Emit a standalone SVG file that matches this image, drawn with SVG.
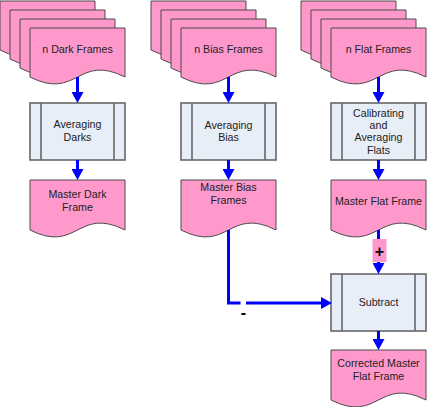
<svg xmlns="http://www.w3.org/2000/svg" xmlns:xlink="http://www.w3.org/1999/xlink" width="427" height="407" viewBox="0 0 427 407">
<style>
.doc{fill:#FF99CC;stroke:#4a4a4a;stroke-width:1}
.pbox{fill:#E8EEF7;stroke:#666666;stroke-width:1.6}
.pline{stroke:#666666;stroke-width:1.6}
text{font-family:"Liberation Sans",Arial,sans-serif;font-size:10.67px;fill:#222222;text-anchor:middle}
.lbl{font-size:16px;font-weight:bold;fill:#000000}
.conn{fill:none;stroke:#0000FF;stroke-width:3;stroke-linejoin:miter}
</style>
<defs>
<path id="doc" d="M0,0 H95 V50 C47.5,26 47.5,74 0,50 Z"/>
<path id="sheet" d="M0,0 H95 V49 C47.5,25 47.5,73 0,49 Z"/>
<g id="proc">
<rect x="0" y="0" width="95" height="57" class="pbox"/>
<line x1="11" y1="0" x2="11" y2="57" class="pline"/>
<line x1="84" y1="0" x2="84" y2="57" class="pline"/>
</g>
<marker id="arr" markerUnits="userSpaceOnUse" markerWidth="11" markerHeight="12" viewBox="0 0 11 12" refX="0" refY="6" orient="auto">
<path d="M0,0 L11,6 L0,12 Z" fill="#0000FF"/>
</marker>
</defs>

<g id="darkFrames">
<use xlink:href="#sheet" class="doc" x="0" y="1"/>
<use xlink:href="#sheet" class="doc" x="10" y="10"/>
<use xlink:href="#sheet" class="doc" x="20" y="19"/>
<use xlink:href="#sheet" class="doc" x="30" y="28"/>
<text x="77.5" y="53">n Dark Frames</text>
</g>
<g id="biasFrames">
<use xlink:href="#sheet" class="doc" x="151" y="1"/>
<use xlink:href="#sheet" class="doc" x="161" y="10"/>
<use xlink:href="#sheet" class="doc" x="171" y="19"/>
<use xlink:href="#sheet" class="doc" x="181" y="28"/>
<text x="228.5" y="53">n Bias Frames</text>
</g>
<g id="flatFrames">
<use xlink:href="#sheet" class="doc" x="301" y="1"/>
<use xlink:href="#sheet" class="doc" x="311" y="10"/>
<use xlink:href="#sheet" class="doc" x="321" y="19"/>
<use xlink:href="#sheet" class="doc" x="331" y="28"/>
<text x="378.5" y="53">n Flat Frames</text>
</g>

<g id="avgDarks">
<use xlink:href="#proc" x="30" y="103"/>
<text x="77.5" y="128">Averaging</text>
<text x="77.5" y="141">Darks</text>
</g>
<g id="avgBias">
<use xlink:href="#proc" x="181" y="103"/>
<text x="228.5" y="129">Averaging</text>
<text x="228.5" y="141">Bias</text>
</g>
<g id="calFlats">
<use xlink:href="#proc" x="331" y="103"/>
<text x="378.5" y="117">Calibrating</text>
<text x="378.5" y="129">and</text>
<text x="378.5" y="141">Averaging</text>
<text x="378.5" y="154">Flats</text>
</g>

<g id="masterDark">
<use xlink:href="#doc" class="doc" x="30" y="180"/>
<text x="77.5" y="198">Master Dark</text>
<text x="77.5" y="211">Frame</text>
</g>
<g id="masterBias">
<use xlink:href="#doc" class="doc" x="181" y="180"/>
<text x="228.5" y="191">Master Bias</text>
<text x="228.5" y="204">Frames</text>
</g>
<g id="masterFlat">
<use xlink:href="#doc" class="doc" x="331" y="180"/>
<text x="378.5" y="205">Master Flat Frame</text>
</g>

<g id="subtract">
<use xlink:href="#proc" x="331" y="274"/>
<text x="378.5" y="306">Subtract</text>
</g>

<g id="correctedFlat">
<use xlink:href="#doc" class="doc" x="331" y="350"/>
<text x="378.5" y="367">Corrected Master</text>
<text x="378.5" y="380">Flat Frame</text>
</g>

<g id="connectors">
<path class="conn" d="M77.5,77 V92" marker-end="url(#arr)"/>
<path class="conn" d="M228.5,77 V92" marker-end="url(#arr)"/>
<path class="conn" d="M378.5,77 V92" marker-end="url(#arr)"/>
<path class="conn" d="M77.5,160 V169" marker-end="url(#arr)"/>
<path class="conn" d="M228.5,160 V169" marker-end="url(#arr)"/>
<path class="conn" d="M378.5,160 V169" marker-end="url(#arr)"/>
<path class="conn" d="M228.5,230 V303 H321" marker-end="url(#arr)"/>
<path class="conn" d="M378.5,230 V263" marker-end="url(#arr)"/>
<path class="conn" d="M378.5,331 V339" marker-end="url(#arr)"/>
<rect x="240.5" y="300" width="5.5" height="22" fill="#FFFFFF"/>
<text class="lbl" x="243.5" y="318">-</text>
<rect x="372.5" y="239" width="14" height="23" fill="#FF99CC"/>
<text class="lbl" x="379.5" y="257">+</text>
</g>
</svg>
